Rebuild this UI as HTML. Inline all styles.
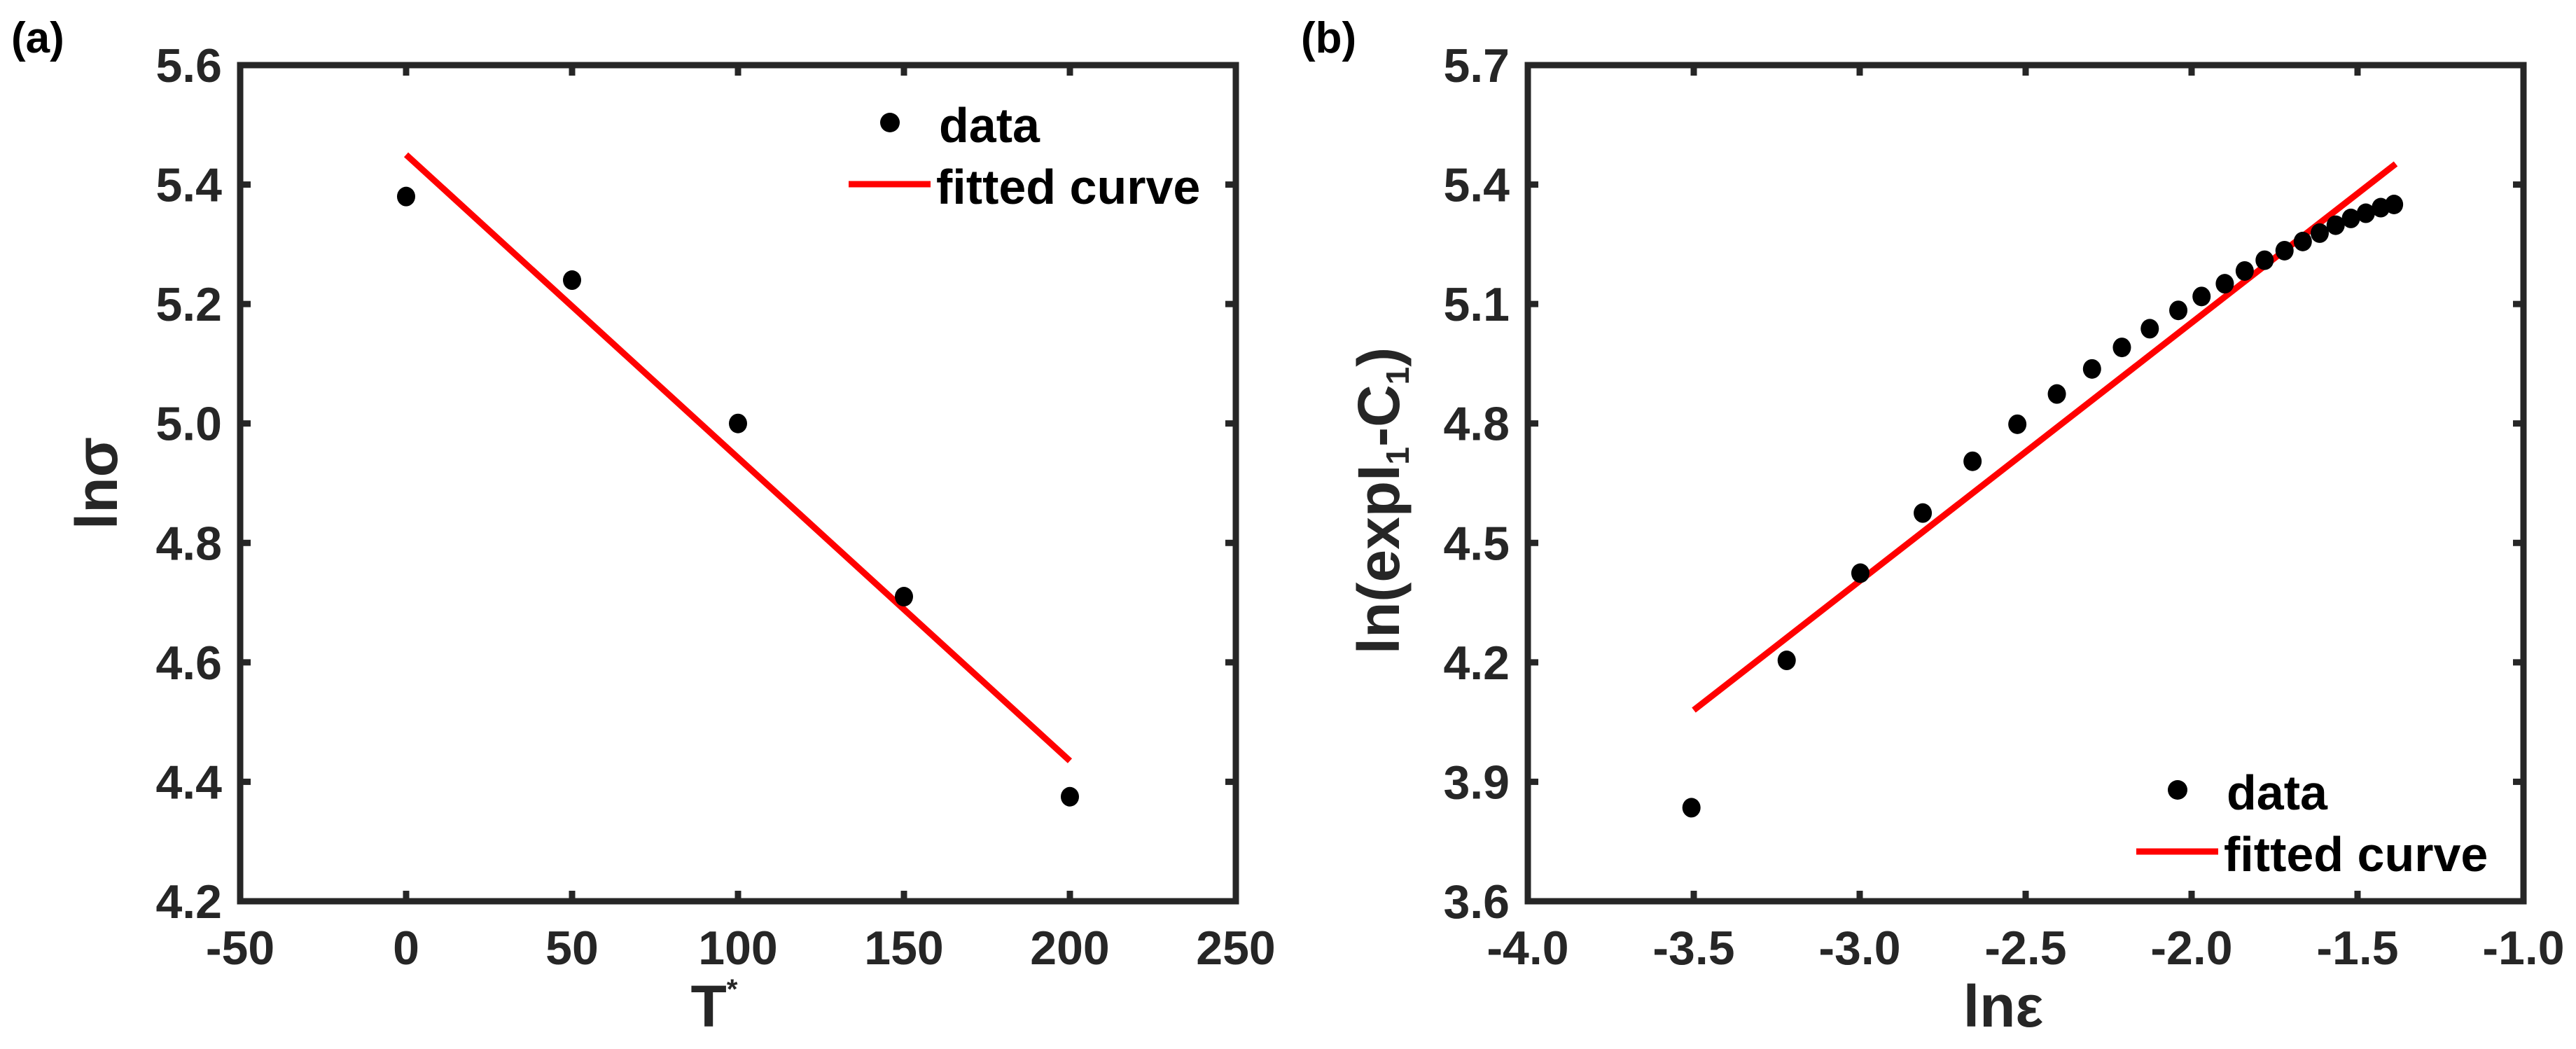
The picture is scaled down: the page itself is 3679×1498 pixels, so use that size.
<!DOCTYPE html>
<html><head><meta charset="utf-8"><style>
html,body{margin:0;padding:0;background:#fff;}
svg{display:block;font-family:"Liberation Sans",Arial,sans-serif;font-weight:bold;}
</style></head><body>
<svg id="fig" width="3679" height="1498" viewBox="0 0 3679 1498" xmlns="http://www.w3.org/2000/svg">
<rect width="3679" height="1498" fill="#fff"/>
<g id="pa"></g>
<g id="pb"></g>
</svg>
<script>
const aX = [0, 50, 100, 150, 200];
const aY = [5.38, 5.24, 5.00, 4.71, 4.375];
const aFitX = [0, 200];
const aFitY = [5.45, 4.435];
const aXTicks = [-50, 0, 50, 100, 150, 200, 250];
const aXTickLabels = ["-50","0","50","100","150","200","250"];
const aYTicks = [4.2, 4.4, 4.6, 4.8, 5.0, 5.2, 5.4, 5.6];
const aYTickLabels = ["4.2","4.4","4.6","4.8","5.0","5.2","5.4","5.6"];

const bX = [-3.507,-3.22,-2.998,-2.81,-2.66,-2.525,-2.406,-2.30,-2.21,-2.126,-2.04,-1.97,-1.90,-1.84,-1.78,-1.72,-1.665,-1.614,-1.566,-1.52,-1.475,-1.43,-1.39];
const bY = [3.835,4.205,4.424,4.575,4.705,4.798,4.874,4.937,4.991,5.038,5.084,5.119,5.151,5.183,5.210,5.234,5.257,5.278,5.298,5.315,5.328,5.342,5.350];
const bFitX = [-3.5, -1.385];
const bFitY = [4.08, 5.452];
const bXTicks = [-4.0,-3.5,-3.0,-2.5,-2.0,-1.5,-1.0];
const bXTickLabels = ["-4.0","-3.5","-3.0","-2.5","-2.0","-1.5","-1.0"];
const bYTicks = [3.6,3.9,4.2,4.5,4.8,5.1,5.4,5.7];
const bYTickLabels = ["3.6","3.9","4.2","4.5","4.8","5.1","5.4","5.7"];

const NS = "http://www.w3.org/2000/svg";
function mk(parent, tag, attrs, text){
  const e = document.createElementNS(NS, tag);
  for (const k in attrs) e.setAttribute(k, attrs[k]);
  if (text !== undefined) e.textContent = text;
  parent.appendChild(e);
  return e;
}

function panel(g, cfg){
  const L = cfg.left, R = cfg.left + 1422, T = 93, B = 1287;
  const sx = v => L + (v - cfg.xmin) / (cfg.xmax - cfg.xmin) * (R - L);
  const sy = v => B - (v - cfg.ymin) / (cfg.ymax - cfg.ymin) * (B - T);
  const col = "#262626";
  // ticks
  cfg.xt.forEach((v, i) => {
    const x = sx(v);
    const t1 = mk(g, "line", {x1:x, y1:B, x2:x, y2:B-15, stroke:col, "stroke-width":9});
    
    
    const t2 = mk(g, "line", {x1:x, y1:T, x2:x, y2:T+15, stroke:col, "stroke-width":9});
    
    
    const lb = mk(g, "text", {x:x, y:1377, "text-anchor":"middle", "font-size":68, fill:col}, cfg.xtl[i]);
    
    
  });
  cfg.yt.forEach((v, i) => {
    const y = sy(v);
    const t1 = mk(g, "line", {x1:L, y1:y, x2:L+15, y2:y, stroke:col, "stroke-width":9});
    
    
    const t2 = mk(g, "line", {x1:R, y1:y, x2:R-15, y2:y, stroke:col, "stroke-width":9});
    
    
    const lb = mk(g, "text", {x:L-26, y:y+24, "text-anchor":"end", "font-size":68, fill:col}, cfg.ytl[i]);
    
    
  });
  // fit line
  const fit = mk(g, "line", {x1:sx(cfg.fx[0]), y1:sy(cfg.fy[0]), x2:sx(cfg.fx[1]), y2:sy(cfg.fy[1]), stroke:"#ff0000", "stroke-width":9});
  
  
  // points
  cfg.dx.forEach((v, i) => {
    const c = mk(g, "ellipse", {cx:sx(v), cy:sy(cfg.dy[i]), rx:13, ry:14, fill:"#000"});
    
    
  });
  // box
  const box = mk(g, "rect", {x:L, y:T, width:R-L, height:B-T, fill:"none", stroke:col, "stroke-width":9});
  
  
  // legend
  const ly = cfg.legY;
  const ld = mk(g, "circle", {cx:L+928, cy:ly, r:14, fill:"#000"});
  
  
  const lt1 = mk(g, "text", {x:L+998, y:ly+28, "font-size":70, fill:"#000"}, "data");
  
  
  const ll = mk(g, "line", {x1:L+869, y1:ly+88, x2:L+986, y2:ly+88, stroke:"#ff0000", "stroke-width":9});
  
  
  const lt2 = mk(g, "text", {x:L+994, y:ly+116, "font-size":70, fill:"#000"}, "fitted curve");
  
  
}

const pa = document.getElementById("pa");
panel(pa, {left:343, xmin:-50, xmax:250, ymin:4.2, ymax:5.6, xt:aXTicks, xtl:aXTickLabels, yt:aYTicks, ytl:aYTickLabels, fx:aFitX, fy:aFitY, dx:aX, dy:aY, legY:175});
const pb = document.getElementById("pb");
panel(pb, {left:2182, xmin:-4.0, xmax:-1.0, ymin:3.6, ymax:5.7, xt:bXTicks, xtl:bXTickLabels, yt:bYTicks, ytl:bYTickLabels, fx:bFitX, fy:bFitY, dx:bX, dy:bY, legY:1128});
</script>
<g></g>
<svg width="0" height="0"></svg>
<div style="position:absolute;left:0;top:0;width:3679px;height:1498px;pointer-events:none;">
<svg width="3679" height="1498" style="position:absolute;left:0;top:0;font-family:'Liberation Sans',Arial,sans-serif;font-weight:bold;">
<text x="16" y="75" font-size="62" fill="#000">(a)</text>
<text x="1858" y="75" font-size="62" fill="#000">(b)</text>
<text transform="translate(167,690) rotate(-90)" text-anchor="middle" font-size="84" fill="#262626">lnσ</text>
<text x="1020" y="1466" text-anchor="middle" font-size="84" fill="#262626">T<tspan font-size="40" dy="-40">*</tspan></text>
<text transform="translate(1998,715) rotate(-90)" text-anchor="middle" font-size="84" fill="#262626">ln(expI<tspan font-size="46" dy="14">1</tspan><tspan dy="-14">-C</tspan><tspan font-size="46" dy="14">1</tspan><tspan dy="-14">)</tspan></text>
<text x="2861" y="1466" text-anchor="middle" font-size="84" fill="#262626">lnε</text>
</svg>
</div>
</body></html>
